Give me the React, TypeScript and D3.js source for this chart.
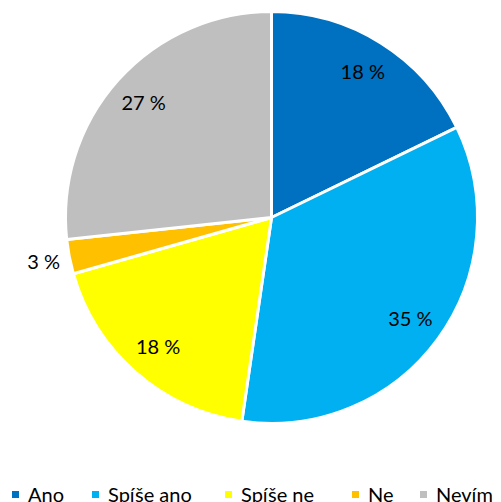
import React, { useRef, useEffect } from 'react';
import * as d3 from 'd3';

const categories = ['Ano', 'Spíše ano', 'Spíše ne', 'Ne', 'Nevím'];
const values = [17.8, 34.5, 18.3, 2.7, 26.7];
const labels = ['18 %', '35 %', '18 %', '3 %', '27 %'];
const colors = ['#0070c0', '#00b0f0', '#ffff00', '#ffc000', '#bfbfbf'];

const App = () => {
  const chart = useRef<SVGSVGElement>(null);

  useEffect(() => {
    const width = 501;
    const height = 502;
    const cx = 271.5;
    const cy = 217.5;
    const r = 206;
    const font = 'Lato, Carlito, sans-serif';

    const svg = d3.select(chart.current);
    svg.selectAll('*').remove();
    svg.attr('width', width).attr('height', height);

    const data = categories.map((c, i) => ({ name: c, value: values[i], label: labels[i], color: colors[i] }));
    const pie = d3.pie<any>().value((d) => d.value).sort(null);
    const arcs = pie(data);
    const arc = d3.arc<any>().innerRadius(0).outerRadius(r);

    const g = svg.append('g').attr('transform', 'translate(' + cx + ',' + cy + ')');

    g.selectAll('path')
      .data(arcs)
      .enter()
      .append('path')
      .attr('d', arc)
      .attr('fill', (d) => d.data.color)
      .attr('stroke', '#fff')
      .attr('stroke-width', 3)
      .attr('stroke-linejoin', 'round');

    // labels inside, small slice outside
    const inner = d3.arc<any>().innerRadius(172).outerRadius(172);
    const outer = d3.arc<any>().innerRadius(232).outerRadius(232);
    g.selectAll('text.lbl')
      .data(arcs)
      .enter()
      .append('text')
      .attr('class', 'lbl')
      .attr('transform', (d) => 'translate(' + (d.data.value < 5 ? outer : inner).centroid(d) + ')')
      .attr('text-anchor', 'middle')
      .attr('dy', '0.35em')
      .attr('font-family', font)
      .attr('font-size', 20)
      .attr('fill', '#000')
      .text((d) => d.data.label);

    // legend
    const legendX = [12, 92, 225, 352, 420];
    const leg = svg.append('g');
    categories.forEach((c, i) => {
      leg.append('rect')
        .attr('x', legendX[i])
        .attr('y', 491)
        .attr('width', 7)
        .attr('height', 7)
        .attr('fill', colors[i]);
      leg.append('text')
        .attr('x', legendX[i] + 16)
        .attr('y', 502)
        .attr('font-family', font)
        .attr('font-size', 20)
        .attr('fill', '#000')
        .text(c);
    });
  }, []);

  return (
    <div style={{ position: 'absolute', left: 0, top: 0 }}>
      <svg ref={chart} style={{ display: 'block' }}></svg>
    </div>
  );
};

export default App;
